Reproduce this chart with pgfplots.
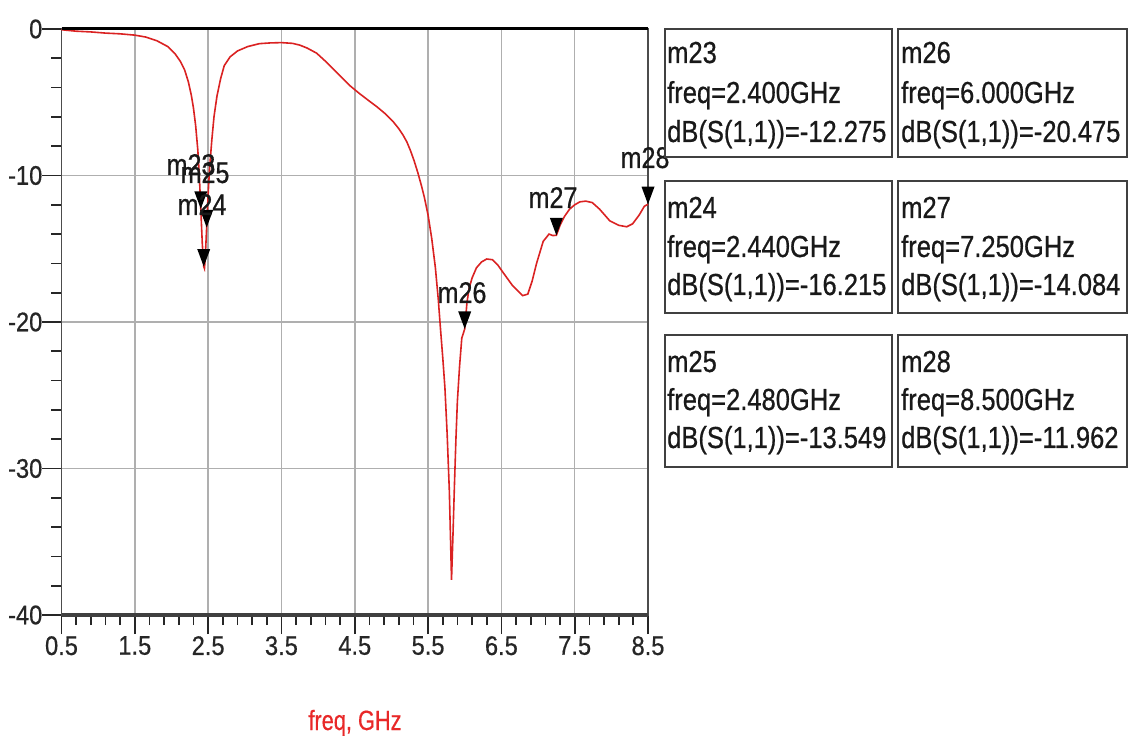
\documentclass[border=0pt]{standalone}
\usepackage{fontspec}
\setmainfont{Liberation Sans}
\newfontfamily\tickfont{Liberation Sans}[FakeStretch=0.88,FakeBold=0.6]
\newfontfamily\mfont{Liberation Sans}[FakeStretch=0.84,FakeBold=0.6]
\newfontfamily\xlfont{Liberation Sans}[FakeStretch=0.78,FakeBold=0.4]
\usepackage{pgfplots}
\pgfplotsset{compat=1.18}

\definecolor{curve}{RGB}{218,34,34}
\definecolor{gridc}{RGB}{175,175,175}
\definecolor{labred}{RGB}{232,40,40}

\pgfdeclareplotmark{dtri}{%
  \pgfpathmoveto{\pgfpoint{0bp}{0bp}}%
  \pgfpathlineto{\pgfpoint{-6.5bp}{17.5bp}}%
  \pgfpathlineto{\pgfpoint{6.5bp}{17.5bp}}%
  \pgfpathclose\pgfusepathqfill}

\pgfplotstableread{
f s11
0.5 -0.05
0.7 -0.15
0.9 -0.2
1.1 -0.28
1.3 -0.33
1.5 -0.42
1.65 -0.55
1.8 -0.8
1.95 -1.2
2.05 -1.7
2.12 -2.2
2.18 -2.8
2.23 -3.6
2.27 -4.5
2.30 -5.4
2.33 -6.6
2.36 -8.3
2.38 -10.0
2.40 -12.275
2.42 -14.6
2.44 -16.215
2.45 -16.35
2.46 -15.7
2.48 -13.549
2.50 -11.3
2.52 -9.5
2.55 -7.6
2.58 -6.0
2.62 -4.6
2.67 -3.4
2.72 -2.5
2.80 -1.9
2.90 -1.5
3.04 -1.2
3.20 -1.0
3.35 -0.95
3.50 -0.93
3.65 -0.98
3.75 -1.1
3.85 -1.3
3.98 -1.65
4.10 -2.2
4.20 -2.7
4.32 -3.3
4.43 -3.85
4.55 -4.35
4.68 -4.85
4.80 -5.3
4.92 -5.8
5.02 -6.3
5.10 -6.8
5.16 -7.25
5.21 -7.7
5.26 -8.3
5.31 -9.0
5.36 -9.8
5.41 -10.7
5.45 -11.5
5.50 -12.7
5.55 -14.3
5.60 -16.3
5.64 -18.5
5.67 -20.5
5.70 -22.4
5.73 -24.5
5.76 -27.6
5.79 -31.5
5.82 -37.6
5.84 -34.5
5.86 -31.1
5.88 -28.0
5.90 -25.4
5.93 -23.0
5.96 -21.1
6.00 -20.475
6.03 -18.7
6.06 -17.7
6.10 -17.0
6.16 -16.3
6.23 -15.9
6.30 -15.7
6.38 -15.75
6.45 -16.1
6.52 -16.6
6.65 -17.5
6.79 -18.2
6.86 -18.1
6.92 -17.2
6.98 -16.0
7.07 -14.5
7.15 -14.0
7.20 -14.1
7.25 -14.084
7.30 -13.4
7.36 -12.8
7.43 -12.3
7.50 -12.0
7.57 -11.8
7.65 -11.75
7.74 -11.85
7.84 -12.3
7.98 -13.1
8.10 -13.4
8.21 -13.5
8.29 -13.3
8.38 -12.7
8.45 -12.1
8.50 -11.962
}\sparam

\pgfplotstableread{
f s11
2.40 -12.275
2.44 -16.215
2.48 -13.549
6.00 -20.475
7.25 -14.084
8.50 -11.962
}\markers

\begin{document}
\begin{tikzpicture}
\useasboundingbox (0,0) rectangle (1134bp,742bp);
\begin{axis}[
  at={(61.5bp,127bp)}, anchor=south west,
  scale only axis, width=586.5bp, height=586bp,
  xmin=0.5, xmax=8.5, ymin=-40, ymax=0,
  xtick={0.5,1.5,2.5,3.5,4.5,5.5,6.5,7.5,8.5},
  xticklabels={0.5,1.5,2.5,3.5,4.5,5.5,6.5,7.5,8.5},
  ytick={-40,-30,-20,-10,0},
  yticklabels={-40,-30,-20,-10,0},
  minor x tick num=4, minor y tick num=4,
  xtick pos=left, ytick pos=left,
  tick align=outside, major tick length=19bp, minor tick length=10bp,
  every tick/.style={black!85, line width=1.7bp},
  grid=major, major grid style={gridc, line width=1.6bp},
  axis line style={black!70, line width=1.8bp},
  ticklabel style={font=\tickfont\fontsize{27}{32}\selectfont, text=black!85, inner sep=0pt},
  xticklabel style={yshift=-2bp},
  clip=false,
]
\addplot[curve, line width=1.6bp] table[x=f, y=s11] {\sparam};
\addplot[only marks, mark=dtri, black] table[x=f, y=s11] {\markers};
\end{axis}
% heavier top/bottom axis lines
\draw[black, line width=3bp] (61.5bp,713bp) -- (648bp,713bp);
\draw[black!75, line width=3.5bp] (61.5bp,127bp) -- (648bp,127bp);

\begin{scope}[every node/.style={font=\mfont\fontsize{30}{36}\selectfont, anchor=base, inner sep=0pt, text=black!90}]
\node at (191bp,567bp) {m23};
\node at (205bp,559bp) {m25};
\node at (202bp,527bp) {m24};
\node at (462bp,439bp) {m26};
\node at (553bp,534bp) {m27};
\node at (645bp,574bp) {m28};
\end{scope}

\begin{scope}[every node/.style={font=\mfont\fontsize{30.5}{36}\selectfont, anchor=base west, inner sep=0pt, text=black!90}]
\filldraw[fill=white, draw=black!75, line width=2bp] (665bp,585bp) rectangle (892bp,713bp);
\filldraw[fill=white, draw=black!75, line width=2bp] (898bp,585bp) rectangle (1127bp,713bp);
\filldraw[fill=white, draw=black!75, line width=2bp] (665bp,429bp) rectangle (892bp,561bp);
\filldraw[fill=white, draw=black!75, line width=2bp] (898bp,429bp) rectangle (1127bp,561bp);
\filldraw[fill=white, draw=black!75, line width=2bp] (665bp,275bp) rectangle (892bp,407bp);
\filldraw[fill=white, draw=black!75, line width=2bp] (898bp,275bp) rectangle (1127bp,407bp);
\node at (667bp,679bp) {m23};
\node at (667bp,639bp) {freq=2.400GHz};
\node at (667bp,600bp) {dB(S(1,1))=-12.275};
\node at (901bp,679bp) {m26};
\node at (901bp,639bp) {freq=6.000GHz};
\node at (901bp,600bp) {dB(S(1,1))=-20.475};
\node at (667bp,524bp) {m24};
\node at (667bp,485bp) {freq=2.440GHz};
\node at (667bp,447bp) {dB(S(1,1))=-16.215};
\node at (901bp,524bp) {m27};
\node at (901bp,485bp) {freq=7.250GHz};
\node at (901bp,447bp) {dB(S(1,1))=-14.084};
\node at (667bp,370bp) {m25};
\node at (667bp,332bp) {freq=2.480GHz};
\node at (667bp,294bp) {dB(S(1,1))=-13.549};
\node at (901bp,370bp) {m28};
\node at (901bp,332bp) {freq=8.500GHz};
\node at (901bp,294bp) {dB(S(1,1))=-11.962};
\end{scope}

\node[font=\xlfont\fontsize{28}{34}\selectfont, text=labred, anchor=base, inner sep=0pt] at (355bp,12bp) {freq, GHz};
\end{tikzpicture}
\end{document}
